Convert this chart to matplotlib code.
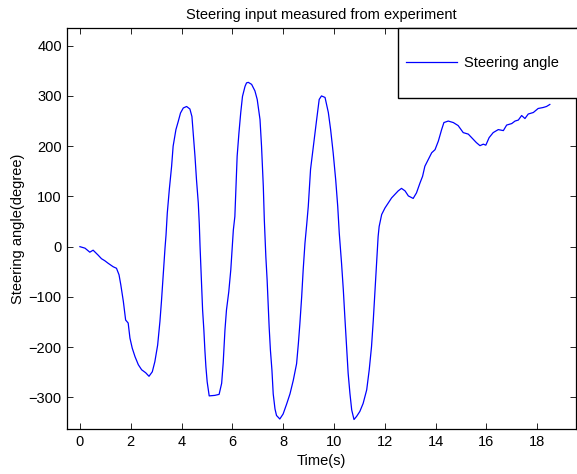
import matplotlib as mpl
mpl.use("Agg")
import matplotlib.pyplot as plt
from matplotlib.lines import Line2D
from matplotlib.patches import Rectangle

# values
time_s = [
    0.0, 0.2, 0.39, 0.52, 0.72, 0.85, 0.98, 1.11, 1.31, 1.44, 1.54, 1.61, 1.71, 1.8, 1.9,
    1.97, 2.06, 2.17, 2.3, 2.43, 2.59, 2.72, 2.85, 2.95, 3.06, 3.15, 3.21, 3.28, 3.35, 3.39,
    3.44, 3.52, 3.61, 3.67, 3.78, 3.87, 3.96, 4.07, 4.2, 4.33, 4.41, 4.46, 4.53, 4.59, 4.66,
    4.7, 4.73, 4.79, 4.83, 4.88, 4.92, 4.96, 5.01, 5.09, 5.31, 5.48, 5.58, 5.64, 5.71, 5.77,
    5.86, 5.94, 6.0, 6.04, 6.1, 6.14, 6.19, 6.26, 6.33, 6.4, 6.5, 6.56, 6.63, 6.76, 6.89,
    6.98, 7.09, 7.15, 7.22, 7.26, 7.32, 7.37, 7.41, 7.45, 7.5, 7.56, 7.61, 7.68, 7.74, 7.87,
    8.0, 8.14, 8.27, 8.4, 8.53, 8.6, 8.66, 8.73, 8.79, 8.86, 8.93, 8.99, 9.08, 9.19, 9.32,
    9.42, 9.51, 9.65, 9.78, 9.87, 9.97, 10.07, 10.15, 10.21, 10.3, 10.37, 10.43, 10.5,
    10.56, 10.63, 10.7, 10.79, 10.89, 11.02, 11.15, 11.29, 11.39, 11.48, 11.55, 11.61, 11.68,
    11.74, 11.78, 11.88, 12.01, 12.14, 12.27, 12.4, 12.53, 12.66, 12.8, 12.93, 13.12, 13.25,
    13.39, 13.49, 13.58, 13.71, 13.85, 13.98, 14.11, 14.24, 14.33, 14.5, 14.7, 14.89, 15.09,
    15.29, 15.48, 15.61, 15.75, 15.88, 15.98, 16.11, 16.27, 16.47, 16.67, 16.8, 17.0, 17.13,
    17.26, 17.39, 17.52, 17.65, 17.85, 18.04, 18.24, 18.37, 18.5,
]
angle_deg = [
    0, -3, -11, -7, -17, -24, -28, -33, -40, -43, -56, -76, -109, -146, -152,
    -182, -202, -219, -235, -245, -251, -258, -249, -229, -196, -149, -109, -56, -3, 23,
    67, 114, 160, 200, 233, 249, 266, 276, 279, 274, 259, 226, 180, 133, 87,
    45, 0, -73, -126, -166, -206, -239, -269, -297, -296, -294, -272, -232, -166, -126,
    -90, -46, 0, 33, 60, 113, 180, 226, 266, 299, 319, 326, 327, 323, 310,
    293, 253, 200, 120, 53, -20, -66, -113, -160, -206, -246, -293, -323, -336, -343,
    -333, -313, -293, -266, -233, -193, -153, -100, -46, 7, 45, 80, 154, 200, 253,
    293, 300, 297, 267, 233, 187, 133, 80, 27, -33, -86, -140, -199,
    -252, -292, -325, -344, -338, -328, -312, -285, -245, -199, -146, -93, -33,
    20, 40, 64, 77, 87, 97, 104, 111, 116, 111, 101, 96, 107,
    127, 140, 160, 173, 187, 193, 210, 233, 247, 250, 247, 241, 227,
    224, 214, 207, 201, 204, 202, 217, 227, 233, 231, 242, 245, 250,
    252, 261, 255, 264, 267, 275, 277, 279, 283,
]
x_ticks = [0, 2, 4, 6, 8, 10, 12, 14, 16, 18]
y_ticks = [-300, -200, -100, 0, 100, 200, 300, 400]

mpl.rcParams.update({"font.family": ["Liberation Sans", "DejaVu Sans"], "font.size": 10.5})

W, H = 577, 474
fig = plt.figure(figsize=(W / 100, H / 100), dpi=100)
ax = fig.add_axes([66.7 / W, 1 - 429.3 / H, (576 - 66.7) / W, (429.3 - 28.3) / H])

ax.plot(time_s, angle_deg, color="#0000ff", lw=0.9)
ax.set_xlim(-0.52, 19.53)
ax.set_ylim(-363.5, 434.6)
ax.set_xticks(x_ticks)
ax.set_yticks(y_ticks)
ax.tick_params(direction="in", length=4, width=0.6, top=True, right=True, colors="black")
ax.tick_params(axis="x", pad=4)
ax.tick_params(axis="y", pad=3.5)
for s in ax.spines.values():
    s.set_linewidth(0.9)
ax.set_title("Steering input measured from experiment", fontsize=10.5, pad=7)
ax.set_xlabel("Time(s)", labelpad=4)
ax.set_ylabel("Steering angle(degree)", labelpad=3)

# legend box sits over the top-right corner and runs past the figure edge
fig.add_artist(Rectangle((398 / W, 1 - 98.3 / H), 0.4, (98.3 - 27.5) / H,
                         transform=fig.transFigure, facecolor="white", edgecolor="black",
                         lw=1.0, zorder=3))
handle = Line2D([0], [0], color="#0000ff", lw=0.9, label="Steering angle")
fig.legend(handles=[handle], loc="center left", bbox_to_anchor=(406 / W, 1 - 63 / H),
           frameon=False, handlelength=3.5, handletextpad=0.45, borderpad=0,
           borderaxespad=0, fontsize=10.5)

fig.savefig("out.png", dpi=100)
